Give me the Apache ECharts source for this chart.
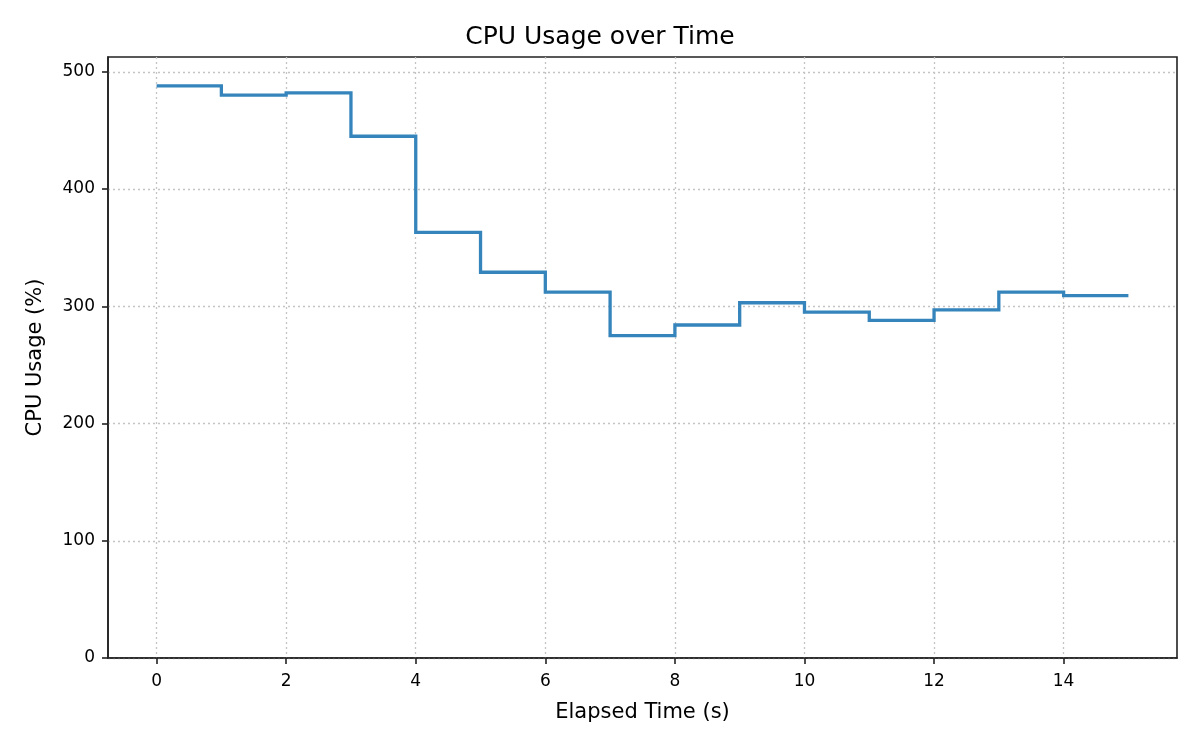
<!DOCTYPE html>
<html>
<head>
<meta charset="utf-8">
<title>CPU Usage over Time</title>
<script src="https://cdn.jsdelivr.net/npm/echarts@6/dist/echarts.min.js"></script>
<style>
  html, body { margin: 0; padding: 0; background: #fff; }
  #chart { width: 1200px; height: 750px; }
</style>
</head>
<body>
<div id="chart"></div>
<script>
// elapsed time (s) and cpu usage (%)
var elapsed = [0, 1, 2, 3, 4, 5, 6, 7, 8, 9, 10, 11, 12, 13, 14, 15];
var cpuUsage = [488, 480, 482, 445, 363, 329, 312, 275, 284, 303, 295, 288, 297, 312, 309, 309];
var xTicks = [0, 2, 4, 6, 8, 10, 12, 14];
var yTicks = [0, 100, 200, 300, 400, 500];

var FONT = 'DejaVu Sans';
var INK = '#222222';

var points = elapsed.map(function (t, i) { return [t, cpuUsage[i]]; });

var gridLine = {
  show: true,
  lineStyle: { color: '#c4c4c4', width: 1.3, type: [2, 3] }
};

var chart = echarts.init(document.getElementById('chart'), null, { renderer: 'canvas' });
chart.setOption({
  animation: false,
  title: {
    text: 'CPU Usage over Time',
    left: 'center',
    top: 20,
    textStyle: { fontFamily: FONT, fontSize: 25, fontWeight: 'normal', color: '#000' }
  },
  grid: {
    left: 108, right: 23, top: 57, bottom: 92,
    show: true, borderColor: INK, borderWidth: 1.6, backgroundColor: 'transparent'
  },
  xAxis: {
    type: 'value',
    min: -0.75,
    max: 15.75,
    name: 'Elapsed Time (s)',
    nameLocation: 'middle',
    nameGap: 44,
    nameTextStyle: { fontFamily: FONT, fontSize: 21, color: '#000' },
    axisLine: { show: true, onZero: false, lineStyle: { color: INK, width: 1.6 } },
    axisTick: { show: true, inside: false, length: 6, customValues: xTicks, lineStyle: { color: INK, width: 1.6 } },
    axisLabel: { customValues: xTicks, margin: 15, fontFamily: FONT, fontSize: 17, color: '#000' },
    splitLine: gridLine
  },
  yAxis: {
    type: 'value',
    min: 0,
    max: 512.6,
    name: 'CPU Usage (%)',
    nameLocation: 'middle',
    nameGap: 62,
    nameTextStyle: { fontFamily: FONT, fontSize: 21, color: '#000' },
    axisLine: { show: true, onZero: false, lineStyle: { color: INK, width: 1.6 } },
    axisTick: { show: true, inside: false, length: 6, customValues: yTicks, lineStyle: { color: INK, width: 1.6 } },
    axisLabel: { customValues: yTicks, margin: 13, fontFamily: FONT, fontSize: 17, color: '#000' },
    splitLine: gridLine
  },
  series: [{
    name: 'CPU Usage',
    type: 'line',
    step: 'end',
    data: points,
    symbol: 'none',
    lineStyle: { color: '#3585bc', width: 3.3, join: 'miter' }
  }]
});
</script>
</body>
</html>
